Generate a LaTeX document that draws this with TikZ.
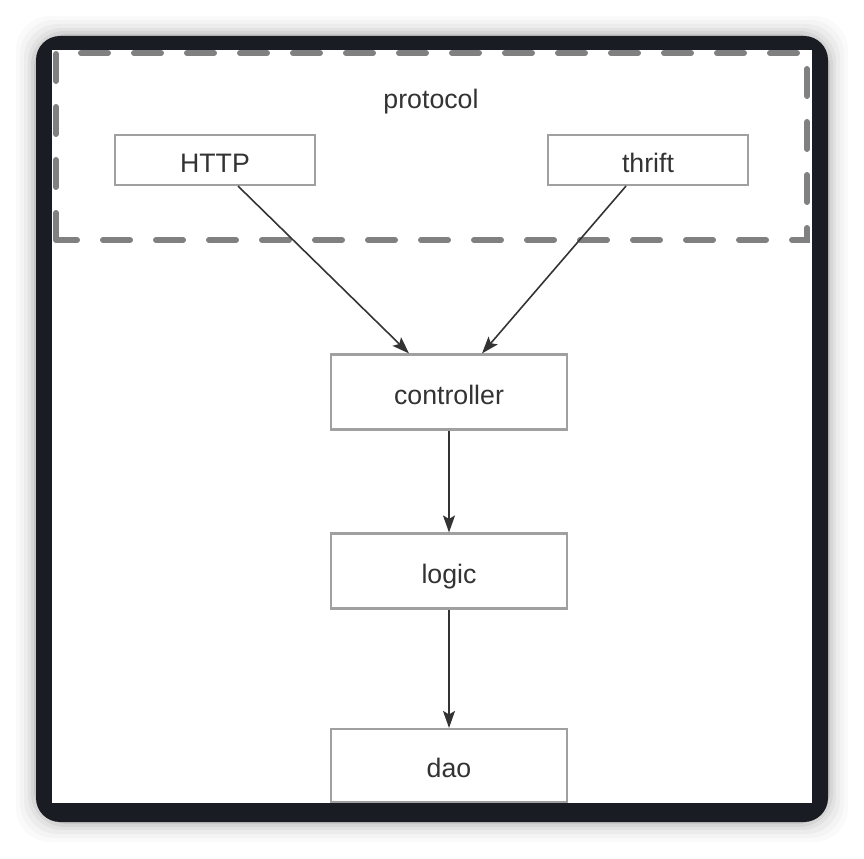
\documentclass[tikz,border=0pt]{standalone}
\usepackage{fontspec}
\setmainfont{Liberation Sans}
\usepackage{xcolor}
\usetikzlibrary{positioning}
\usetikzlibrary{arrows.meta}
\definecolor{framecol}{HTML}{1A1C24}
\definecolor{dashcol}{HTML}{808080}
\definecolor{boxline}{HTML}{A0A0A0}
\definecolor{boxtext}{HTML}{333333}
\definecolor{arrowcol}{HTML}{333333}

\begin{document}
\begin{tikzpicture}[
    layerbox/.style={shape=rectangle, draw=boxline, line width=0.6pt, fill=white, text=boxtext, font=\fontsize{7.6}{9}\selectfont, inner sep=0pt, text height=7.1pt, text depth=0pt},
    smallbox/.style={layerbox, minimum width=2cm, minimum height=0.5cm},
    bigbox/.style={layerbox, minimum width=2.36cm, minimum height=0.75cm},
    flow/.style={draw=arrowcol, line width=0.45pt, -{Stealth[length=1.7mm, width=1.2mm, inset=0.35mm]}}
]
% Page
\useasboundingbox (0,0) rectangle (8.64,8.58);
\fill[white] (0,0) rectangle (8.64,8.58);

% Shadow round the frame
\foreach \r/\op in {0.2/0.02, 0.16/0.025, 0.12/0.03, 0.08/0.04, 0.05/0.05, 0.02/0.07}
  \fill[black, opacity=\op, rounded corners=0.34cm] (0.36-\r,0.36-\r) rectangle (8.28+\r,8.22+\r);

% Frame
\fill[framecol, rounded corners=0.24cm] (0.36,0.36) rectangle (8.28,8.22);
\fill[white] (0.52,0.55) rectangle (8.12,8.08);

% Protocol area
\draw[dashcol, line width=1.7pt, line cap=round, dash pattern=on 0.27cm off 0.26cm]
  (0.56,6.18) rectangle (8.07,8.05);
\node[text=boxtext, font=\fontsize{7.6}{9}\selectfont] (protocol) at (4.31,7.565) {protocol};

% Boxes
\node[smallbox] (http) at (2.15,6.98) {HTTP};
\node[smallbox] (thrift) at (6.48,6.98) {thrift};
\node[bigbox] (controller) at (4.49,4.66) {controller};
\node[bigbox] (logic) at (4.49,2.87) {logic};
\node[bigbox, minimum height=0.73cm] (dao) at (4.49,0.925) {dao};

% Arrows
\draw[flow] ([xshift=0.23cm]http.south) -- ([xshift=-0.40cm]controller.north);
\draw[flow] ([xshift=-0.22cm]thrift.south) -- ([xshift=0.33cm]controller.north);
\draw[flow] (controller) -- (logic);
\draw[flow] (logic) -- (dao);

\end{tikzpicture}
\end{document}
